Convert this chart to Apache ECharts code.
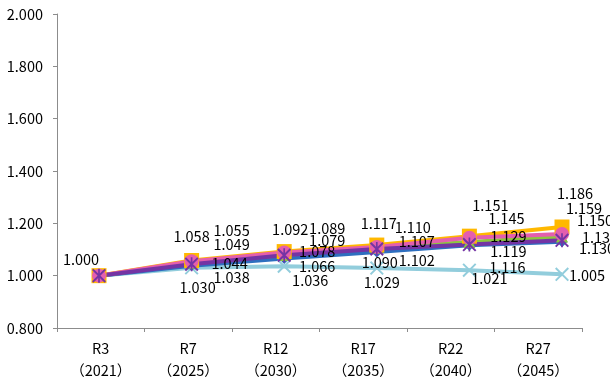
<!DOCTYPE html>
<html>
<head>
<meta charset="utf-8">
<script src="https://cdn.jsdelivr.net/npm/echarts@6/dist/echarts.min.js"></script>
<style>
  html, body { margin: 0; padding: 0; background: #fff; }
  #chart { width: 610px; height: 381px; }
</style>
</head>
<body>
<div id="chart"></div>
<script>
// Period tick labels
const periods = ['R3', 'R7', 'R12', 'R17', 'R22', 'R27'];
const years = ['2021', '2025', '2030', '2035', '2040', '2045'];

// Index values per line (base R3 = 1.000)
const lineOrange = [1.000, 1.058, 1.092, 1.117, 1.151, 1.186];
const linePink = [1.000, 1.055, 1.089, 1.110, 1.145, 1.159];
const lineGreen = [1.000, 1.049, 1.079, 1.107, 1.129, 1.150];
const lineBlue = [1.000, 1.038, 1.066, 1.090, 1.116, 1.130];
const lineLightBlue = [1.000, 1.030, 1.036, 1.029, 1.021, 1.005];
const linePurple = [1.000, 1.044, 1.078, 1.102, 1.119, 1.135];

// Value-label offsets from each point, [dx, dy] in px (null = no label)
const offOrange = [[-18, -16], [0, -24], [6, -22], [2, -22], [21, -31], [13, -34]];
const offPink = [null, [40, -31], [43, -24], [36, -19], [37, -19], [22, -26]];
const offGreen = [null, [40, -18], [43, -15], [40, -6], [39, -5], [33, -16]];
const offBlue = [null, [40, 12], [33, 8], [3, 10], [38, 22], [35, 7]];
const offLightBlue = [null, [6, 20], [26, 14], [5, 14], [20, 8], [25, 1]];
const offPurple = [null, [38, -1], [33, -4], [40, 12], [39, 7], [38, -3]];

const FONT = '"Noto Sans CJK JP", "Noto Sans", sans-serif';

// Marker shapes: a thin "x" cross and an asterisk
const crossPath = 'path://M0,1 L1,0 L10,9 L9,10 Z M9,0 L10,1 L1,10 L0,9 Z';
const starPath = 'path://M0,1 L1,0 L10,9 L9,10 Z M9,0 L10,1 L1,10 L0,9 Z M4.4,0 L5.6,0 L5.6,10 L4.4,10 Z';

function buildData(values, offsets) {
  return values.map((v, i) => {
    const off = offsets[i];
    if (!off) return { value: v, label: { show: false } };
    return {
      value: v,
      label: {
        show: true,
        position: 'inside',
        offset: off,
        formatter: (p) => p.value.toFixed(3),
        color: '#000',
        fontSize: 14.5,
        fontFamily: FONT
      }
    };
  });
}

function makeSeries(name, values, offsets, color, symbol, size) {
  return {
    name: name,
    type: 'line',
    xAxisIndex: 1,
    yAxisIndex: 1,
    data: buildData(values, offsets),
    symbol: symbol,
    symbolSize: size,
    lineStyle: { color: color, width: 4 },
    itemStyle: { color: color },
    emphasis: { disabled: true },
    animation: false
  };
}

const chart = echarts.init(document.getElementById('chart'), null, { renderer: 'canvas' });

chart.setOption({
  backgroundColor: '#fff',
  animation: false,
  grid: [
    { left: 57, right: 28, top: 14, bottom: 53 },
    { left: 99, right: 48, top: 14, bottom: 53 }
  ],
  xAxis: [
    {
      type: 'category',
      gridIndex: 0,
      data: periods,
      boundaryGap: true,
      axisLine: { lineStyle: { color: '#8c8c8c', width: 1 } },
      axisTick: { show: true, length: 4, lineStyle: { color: '#8c8c8c' } },
      axisLabel: {
        margin: 9,
        color: '#000',
        fontSize: 14.5,
        lineHeight: 22,
        fontFamily: FONT,
        formatter: (v, i) => v + '\n（' + years[i] + '）'
      }
    },
    {
      type: 'category',
      gridIndex: 1,
      data: periods,
      boundaryGap: false,
      show: false
    }
  ],
  yAxis: [
    {
      type: 'value',
      gridIndex: 0,
      min: 0.8,
      max: 2.0,
      interval: 0.2,
      axisLine: { show: true, lineStyle: { color: '#8c8c8c', width: 1 } },
      axisTick: { show: true, length: 4, lineStyle: { color: '#8c8c8c' } },
      splitLine: { show: false },
      axisLabel: {
        margin: 14,
        color: '#000',
        fontSize: 14.5,
        fontFamily: FONT,
        formatter: (v) => v.toFixed(3)
      }
    },
    {
      type: 'value',
      gridIndex: 1,
      min: 0.8,
      max: 2.0,
      show: false,
      splitLine: { show: false }
    }
  ],
  series: [
    makeSeries('lightblue', lineLightBlue, offLightBlue, '#92CDDC', crossPath, 14),
    makeSeries('blue', lineBlue, offBlue, '#2E6FBF', 'diamond', 11),
    makeSeries('green', lineGreen, offGreen, '#8DC63F', 'triangle', 12),
    makeSeries('orange', lineOrange, offOrange, '#FFB800', 'rect', 15),
    makeSeries('pink', linePink, offPink, '#E45EAE', 'circle', 14),
    makeSeries('purple', linePurple, offPurple, '#7434A4', starPath, 14)
  ]
});
</script>
</body>
</html>
